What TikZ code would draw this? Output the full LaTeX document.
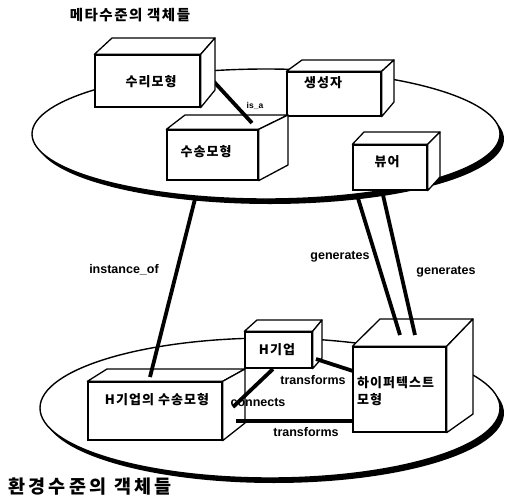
\documentclass[tikz,border=0pt]{standalone}
\usepackage{fontspec}
\newfontfamily\kr{Noto Sans CJK KR}[LetterSpace=8]
\newfontfamily\en{Liberation Sans}
\newcommand\boxsides[4]{%
  \filldraw[facestyle] (#1.north west) -- (#2) -- (#3) -- (#1.north east) -- cycle;
  \filldraw[facestyle] (#1.north east) -- (#3) -- (#4) -- (#1.south east) -- cycle;}
\begin{document}
\begin{tikzpicture}[x=1pt,y=-1pt,
  facestyle/.style={draw=black, fill=white, line width=1.3pt, line join=round},
  frontbox/.style={draw=black, fill=white, line width=1.3pt, inner sep=0pt, rectangle},
  plate/.style={draw=black, fill=white, line width=1.4pt},
  rel/.style={line width=3.8pt, black},
  kor/.style={font=\kr\bfseries\fontsize{13}{17}\selectfont, inner sep=0pt},
  eng/.style={font=\en\bfseries\fontsize{12.5}{14}\selectfont, inner sep=0pt},
]
\useasboundingbox (0,0) rectangle (507,504);

% ---------- lower plate ----------
\fill[black] (274,413) ellipse [x radius=230pt, y radius=70pt];
\draw[plate] (270,408) ellipse [x radius=230pt, y radius=70pt];

% H기업
\node[frontbox, minimum width=67pt, minimum height=36pt] (F) at (278.5,350) {};
\boxsides{F}{257,320}{322,320}{322,358}
\node[kor] (Ft) at (277,350) {H기업};

% H기업의 수송모형
\node[frontbox, minimum width=134pt, minimum height=58pt] (E) at (155,411) {};
\boxsides{E}{107,369}{245,369}{245,423}
\node[kor] (Et) at (157,400) {H기업의 수송모형};

% 하이퍼텍스트 모형
\node[frontbox, minimum width=93pt, minimum height=85pt] (G) at (399.5,389.5) {};
\boxsides{G}{380,319}{473,319}{473,414}
\node[kor, align=left, anchor=west] (Gt) at (357,391.5) {하이퍼텍스트\\모형};

% lower relations
\coordinate (tuA) at (316,359);
\coordinate (tuB) at (353,371);
\draw[rel] (tuA) -- (tuB);
\coordinate (cnA) at (273,369);
\coordinate (cnB) at (233,407);
\draw[rel] (cnA) -- (cnB);
\coordinate (tlA) at (236,421);
\coordinate (tlB) at (353,421);
\draw[rel] (tlA) -- (tlB);
\node[eng] (tuL) at (313,380) {transforms};
\node[eng] (cnL) at (258,402) {connects};
\node[eng] (tlL) at (306,432) {transforms};

% ---------- inter-level relations ----------
\coordinate (ioA) at (196,195);
\coordinate (ioB) at (150,377);
\draw[rel] (ioA) -- (ioB);
\coordinate (g1A) at (357,195);
\coordinate (g1B) at (400,335);
\draw[rel] (g1A) -- (g1B);
\coordinate (g2A) at (383,195);
\coordinate (g2B) at (415,335);
\draw[rel] (g2A) -- (g2B);
\node[eng] (ioL) at (124,270) {instance\_of};
\node[eng] (g1L) at (340,257) {generates};
\node[eng] (g2L) at (446,272) {generates};

% ---------- upper plate ----------
\fill[black] (270,139) ellipse [x radius=234pt, y radius=65pt];
\draw[plate] (266,134) ellipse [x radius=234pt, y radius=65pt];

% 생성자
\node[frontbox, minimum width=94pt, minimum height=44pt] (C) at (334,94) {};
\boxsides{C}{302,60}{394,60}{394,102}
\node[kor] (Ct) at (323,83) {생성자};

% 뷰어
\node[frontbox, minimum width=74pt, minimum height=45pt] (D) at (390,167.5) {};
\boxsides{D}{364,132}{440,132}{440,177}
\node[kor] (Dt) at (387,162) {뷰어};

% 수송모형
\node[frontbox, minimum width=91pt, minimum height=50pt] (B) at (212.5,155) {};
\boxsides{B}{185,115}{288,115}{288,165}
\node[kor] (Bt) at (206,152) {수송모형};

% is_a
\coordinate (iaA) at (205,72);
\coordinate (iaB) at (252,123);
\draw[rel] (iaA) -- (iaB);
\node[eng, font=\en\bfseries\fontsize{8.5}{10}\selectfont] (iaL) at (255,106) {is\_a};

% 수리모형
\node[frontbox, minimum width=105pt, minimum height=52pt] (A) at (147.5,81) {};
\boxsides{A}{112,38}{215,38}{215,90}
\node[kor] (At) at (151,82) {수리모형};

% ---------- titles ----------
\node[inner sep=0pt, font={\kr\addfontfeatures{LetterSpace=10}\bfseries\fontsize{14.5}{16}\selectfont}] (topT) at (130,15) {메타수준의 객체들};
\node[inner sep=0pt, font={\kr\addfontfeatures{LetterSpace=18}\bfseries\fontsize{18.5}{20}\selectfont}] (botT) at (90,487) {환경수준의 객체들};
\end{tikzpicture}
\end{document}
